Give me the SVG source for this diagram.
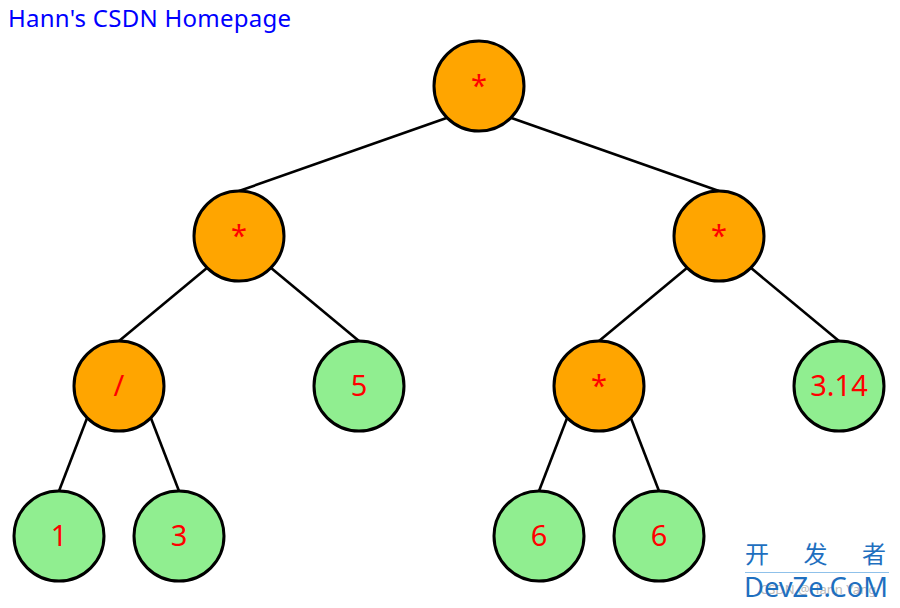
<svg xmlns="http://www.w3.org/2000/svg" width="900" height="608" viewBox="0 0 900 608">
<style>
.op{fill:#FFA500;stroke:#000;stroke-width:3}
.num{fill:#90EE90;stroke:#000;stroke-width:3}
.lbl{font-family:"Noto Sans","Open Sans","DejaVu Sans",sans-serif;font-size:29px;fill:#FF0000;text-anchor:middle}
.edge{stroke:#000;stroke-width:2.6;fill:none}
</style>
<rect width="900" height="608" fill="#fff"/>
<text x="8" y="27" font-family="Noto Sans, Open Sans, sans-serif" font-size="24" fill="#0000FF" textLength="283">Hann's CSDN Homepage</text>
<g id="connectors">
<line class="edge" x1="447.2" y1="117.8" x2="239" y2="191"/>
<line class="edge" x1="510.8" y1="117.8" x2="719" y2="191"/>
<line class="edge" x1="207.2" y1="267.8" x2="119" y2="341"/>
<line class="edge" x1="270.8" y1="267.8" x2="359" y2="341"/>
<line class="edge" x1="687.2" y1="267.8" x2="599" y2="341"/>
<line class="edge" x1="750.8" y1="267.8" x2="839" y2="341"/>
<line class="edge" x1="87.2" y1="417.8" x2="59" y2="491"/>
<line class="edge" x1="150.8" y1="417.8" x2="179" y2="491"/>
<line class="edge" x1="567.2" y1="417.8" x2="539" y2="491"/>
<line class="edge" x1="630.8" y1="417.8" x2="659" y2="491"/>
</g>
<g id="n_root"><circle class="op" cx="479" cy="86" r="45"/><text class="lbl" x="479" y="96">*</text></g>
<g id="n_l"><circle class="op" cx="239" cy="236" r="45"/><text class="lbl" x="239" y="246">*</text></g>
<g id="n_r"><circle class="op" cx="719" cy="236" r="45"/><text class="lbl" x="719" y="246">*</text></g>
<g id="n_ll"><circle class="op" cx="119" cy="386" r="45"/><text class="lbl" x="119" y="396">/</text></g>
<g id="n_lr"><circle class="num" cx="359" cy="386" r="45"/><text class="lbl" x="359" y="396">5</text></g>
<g id="n_rl"><circle class="op" cx="599" cy="386" r="45"/><text class="lbl" x="599" y="396">*</text></g>
<g id="n_rr"><circle class="num" cx="839" cy="386" r="45"/><text class="lbl" x="839" y="396">3.14</text></g>
<g id="n_lll"><circle class="num" cx="59" cy="536" r="45"/><text class="lbl" x="59" y="546">1</text></g>
<g id="n_llr"><circle class="num" cx="179" cy="536" r="45"/><text class="lbl" x="179" y="546">3</text></g>
<g id="n_rll"><circle class="num" cx="539" cy="536" r="45"/><text class="lbl" x="539" y="546">6</text></g>
<g id="n_rlr"><circle class="num" cx="659" cy="536" r="45"/><text class="lbl" x="659" y="546">6</text></g>
<g id="watermark">
<text x="745" y="563" font-family="Noto Sans CJK SC, sans-serif" font-size="24" fill="#1E6FBF" textLength="141">开 发 者</text>
<line x1="745" y1="572.5" x2="889" y2="572.5" stroke="#8FC1EA" stroke-width="1"/>
<text x="760" y="594" font-family="Noto Sans, sans-serif" font-size="13" fill="#BBBBBB">CSDN @Hann Yang</text>
<text x="744" y="597" font-family="Noto Sans, sans-serif" font-size="27" fill="#1E6FBF" textLength="144" lengthAdjust="spacingAndGlyphs">DevZe.CoM</text>
</g>
</svg>
